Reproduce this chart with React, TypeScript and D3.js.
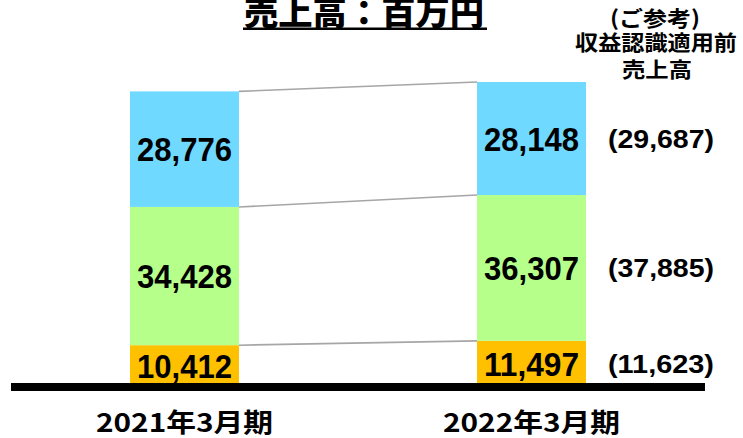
import React from "react";
import * as d3 from "d3";

const periods = ["2021年3月期", "2022年3月期"];
const layerKeys = ["bottom", "middle", "top"];
const bottomValues = [10412, 11497];
const middleValues = [34428, 36307];
const topValues = [28776, 28148];
const referenceValues = [11623, 37885, 29687];
const layerColors = ["#FFC000", "#B6FF8A", "#70D9FF"];
const titleText = "売上高：百万円";
const refHeader = ["(ご参考)", "収益認識適用前", "売上高"];

const W = 743;
const H = 438;
const FONT = "'Noto Sans CJK JP', 'Noto Sans', sans-serif";
const NUMFONT = "'Liberation Sans', Arial, sans-serif";

export default function App() {
  const rows = periods.map((p, i) => ({
    period: p,
    bottom: bottomValues[i],
    middle: middleValues[i],
    top: topValues[i],
  }));
  const stacked = d3.stack<any>().keys(layerKeys)(rows);
  const maxTotal = d3.max(rows, (r) => r.bottom + r.middle + r.top) as number;

  const y = d3.scaleLinear().domain([0, maxTotal]).range([387, 82]);
  const x = d3.scalePoint<string>().domain(periods).range([184.5, 531.5]);
  const barW = 109;
  const fmt = d3.format(",");

  const x0 = (x(periods[0]) as number) + barW / 2;
  const x1 = (x(periods[1]) as number) - barW / 2;

  return (
    <svg
      width={W}
      height={H}
      style={{ position: "absolute", left: 0, top: 0, background: "#fff" }}
      fontFamily={FONT}
    >
      {/* bars */}
      {stacked.map((layer, li) =>
        layer.map((d, i) => (
          <rect
            key={`${li}-${i}`}
            x={(x(periods[i]) as number) - barW / 2}
            y={y(d[1])}
            width={barW}
            height={y(d[0]) - y(d[1])}
            fill={layerColors[li]}
          />
        ))
      )}
      {/* connectors */}
      {stacked.map((layer, li) => (
        <line
          key={`c${li}`}
          x1={x0}
          y1={y(layer[0][1])}
          x2={x1}
          y2={y(layer[1][1])}
          stroke="#A6A6A6"
          strokeWidth={1.6}
        />
      ))}
      {/* bar labels */}
      {stacked.map((layer, li) =>
        layer.map((d, i) => (
          <text
            key={`t${li}-${i}`}
            x={x(periods[i]) as number}
            y={(y(d[0]) + y(d[1])) / 2 + 12}
            textAnchor="middle"
            fontFamily={NUMFONT}
            fontSize={34}
            fontWeight={700}
            textLength={95}
            lengthAdjust="spacingAndGlyphs"
            fill="#000"
          >
            {fmt(d[1] - d[0])}
          </text>
        ))
      )}
      {/* reference values */}
      {stacked.map((layer, li) => {
        const d = layer[1];
        return (
          <text
            key={`r${li}`}
            x={661}
            y={(y(d[0]) + y(d[1])) / 2 + 9}
            textAnchor="middle"
            fontFamily={NUMFONT}
            fontSize={25}
            fontWeight={700}
            textLength={106}
            lengthAdjust="spacingAndGlyphs"
            fill="#000"
          >
            {`(${fmt(referenceValues[li])})`}
          </text>
        );
      })}
      {/* baseline */}
      <rect x={11} y={383} width={694} height={8} fill="#000" />
      {/* x labels */}
      {periods.map((p) => (
        <text
          key={p}
          x={x(p) as number}
          y={432}
          textAnchor="middle"
          fontSize={26}
          fontWeight={700}
          textLength={177}
          lengthAdjust="spacingAndGlyphs"
          fill="#000"
        >
          {p}
        </text>
      ))}
      {/* title */}
      <text
        x={364}
        y={25}
        textAnchor="middle"
        fontSize={33}
        fontWeight={900}
        textLength={240}
        lengthAdjust="spacingAndGlyphs"
        fill="#000"
      >
        {titleText}
      </text>
      <rect x={243} y={27.5} width={244} height={2.5} fill="#000" />
      {/* reference header */}
      <text x={655} y={26} textAnchor="middle" fontSize={21} fontWeight={700} textLength={90} lengthAdjust="spacingAndGlyphs">
        {refHeader[0]}
      </text>
      <text x={656} y={50} textAnchor="middle" fontSize={21} fontWeight={700} textLength={162} lengthAdjust="spacingAndGlyphs">
        {refHeader[1]}
      </text>
      <text x={657} y={77} textAnchor="middle" fontSize={21} fontWeight={700} textLength={70} lengthAdjust="spacingAndGlyphs">
        {refHeader[2]}
      </text>
    </svg>
  );
}
